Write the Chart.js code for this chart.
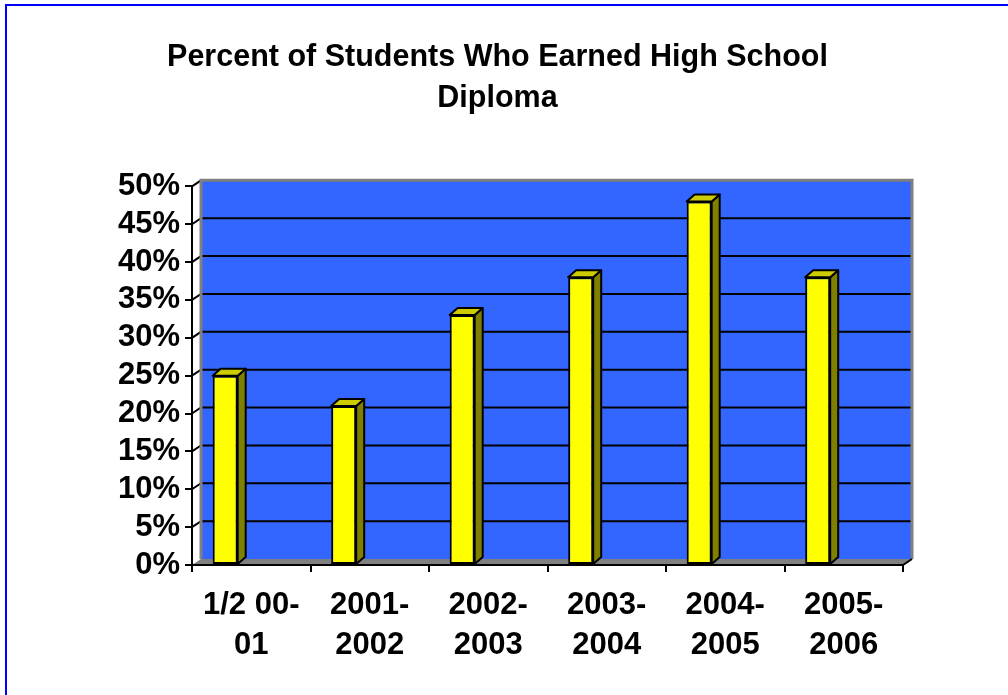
<!DOCTYPE html>
<html>
<head>
<meta charset="utf-8">
<script src="https://cdn.jsdelivr.net/npm/chart.js@4"></script>
<style>
    html, body { margin: 0; padding: 0; background: #fff; }
    #wrap { width: 1008px; height: 695px; position: relative; }
</style>
</head>
<body>
<div id="wrap"><canvas id="diplomaChart" width="1008" height="695"></canvas></div>
<script>
const schoolYears = [['1/2 00-', '01'], ['2001-', '2002'], ['2002-', '2003'], ['2003-', '2004'], ['2004-', '2005'], ['2005-', '2006']];
const percentEarned = [25, 21, 33, 38, 48, 38];
const emptySlot = [null, null, null, null, null, null];
const yTicks = [0, 5, 10, 15, 20, 25, 30, 35, 40, 45, 50];
const titleLines = ['Percent of Students Who Earned High School', 'Diploma'];

const fontFam = '"Liberation Sans", Arial, sans-serif';
const wallDx = 9, wallDy = -6;
const barDx = 8, barDy = -7;

// back wall, floor and frame, painted before the axes
const wallPlugin = {
    id: 'wall',
    beforeDraw(chart) {
        const ctx = chart.ctx;
        const { left, right, top, bottom } = chart.chartArea;
        const yScale = chart.scales.y;
        ctx.save();
        ctx.fillStyle = '#fff';
        ctx.fillRect(0, 0, chart.width, chart.height);

        // blue frame at top and left
        ctx.strokeStyle = '#0000ff';
        ctx.lineWidth = 2;
        ctx.beginPath();
        ctx.moveTo(6, chart.height);
        ctx.lineTo(6, 5);
        ctx.lineTo(chart.width, 5);
        ctx.stroke();

        // floor
        ctx.fillStyle = '#808080';
        ctx.beginPath();
        ctx.moveTo(left, bottom);
        ctx.lineTo(right, bottom);
        ctx.lineTo(right + wallDx, bottom + wallDy);
        ctx.lineTo(left + wallDx, bottom + wallDy);
        ctx.closePath();
        ctx.fill();

        // wall
        ctx.fillStyle = '#3366ff';
        ctx.fillRect(left + wallDx, top + wallDy, right - left, bottom - top);

        // gridlines
        ctx.strokeStyle = '#000';
        ctx.lineWidth = 2;
        yTicks.forEach(v => {
            if (v === 0 || v === 50) return;
            const y = yScale.getPixelForValue(v);
            ctx.beginPath();
            ctx.moveTo(left, y);
            ctx.lineTo(left + wallDx, y + wallDy);
            ctx.lineTo(right + wallDx, y + wallDy);
            ctx.stroke();
        });
        const yTop = yScale.getPixelForValue(50);
        ctx.beginPath();
        ctx.moveTo(left, yTop);
        ctx.lineTo(left + wallDx, yTop + wallDy);
        ctx.stroke();

        // wall edges
        ctx.strokeStyle = '#808080';
        ctx.lineWidth = 3;
        ctx.beginPath();
        ctx.moveTo(left + wallDx, bottom + wallDy);
        ctx.lineTo(left + wallDx, top + wallDy);
        ctx.lineTo(right + wallDx, top + wallDy);
        ctx.lineTo(right + wallDx, bottom + wallDy);
        ctx.stroke();

        // floor edge to the right tick
        ctx.strokeStyle = '#000';
        ctx.lineWidth = 2;
        ctx.beginPath();
        ctx.moveTo(right, bottom);
        ctx.lineTo(right + wallDx, bottom + wallDy);
        ctx.stroke();
        ctx.restore();
    }
};

// side and top faces of the bars
const depthPlugin = {
    id: 'depth',
    afterDatasetsDraw(chart) {
        const ctx = chart.ctx;
        const meta = chart.getDatasetMeta(0);
        ctx.save();
        ctx.strokeStyle = '#000';
        ctx.lineWidth = 2;
        ctx.lineJoin = 'round';
        meta.data.forEach(bar => {
            const p = bar.getProps(['x', 'y', 'base', 'width'], true);
            const l = p.x - p.width / 2;
            const r = p.x + p.width / 2;
            ctx.fillStyle = '#808000';
            ctx.beginPath();
            ctx.moveTo(r, p.y);
            ctx.lineTo(r + barDx, p.y + barDy);
            ctx.lineTo(r + barDx, p.base + barDy);
            ctx.lineTo(r, p.base);
            ctx.closePath();
            ctx.fill();
            ctx.stroke();
            ctx.fillStyle = '#cccc00';
            ctx.beginPath();
            ctx.moveTo(l, p.y);
            ctx.lineTo(l + barDx, p.y + barDy);
            ctx.lineTo(r + barDx, p.y + barDy);
            ctx.lineTo(r, p.y);
            ctx.closePath();
            ctx.fill();
            ctx.stroke();
        });
        ctx.restore();
    }
};

const ctxDiploma = document.getElementById('diplomaChart').getContext('2d');
const chartDiploma = new Chart(ctxDiploma, {
    type: 'bar',
    data: {
        labels: schoolYears,
        datasets: [
            {
                label: 'Percent',
                data: percentEarned,
                backgroundColor: '#ffff00',
                borderColor: '#000',
                borderWidth: 2,
                borderSkipped: false,
                categoryPercentage: 0.88,
                barPercentage: 0.48
            },
            {
                label: 'spacer',
                data: emptySlot,
                categoryPercentage: 0.88,
                barPercentage: 0.48
            }
        ]
    },
    options: {
        responsive: false,
        animation: false,
        layout: { padding: { left: 0, right: 13, top: 0, bottom: 0 } },
        plugins: {
            legend: { display: false },
            tooltip: { enabled: false },
            title: {
                display: true,
                text: titleLines,
                color: '#000',
                font: { family: fontFam, size: 30.5, weight: 'bold', lineHeight: 1.35 },
                padding: { top: 37, bottom: 67 }
            }
        },
        scales: {
            x: {
                afterFit: (scale) => { scale.height = 130; },
                grid: { offset: true, drawOnChartArea: false, drawTicks: true, tickLength: 7, color: '#000', lineWidth: 2 },
                border: { display: true, color: '#000', width: 2 },
                ticks: {
                    color: '#000',
                    padding: 13,
                    maxRotation: 0,
                    autoSkip: false,
                    font: { family: fontFam, size: 31, weight: 'bold', lineHeight: 1.29 }
                }
            },
            y: {
                min: 0,
                max: 50,
                afterFit: (scale) => { scale.width = 192; },
                afterBuildTicks: (scale) => { scale.ticks = yTicks.map(v => ({ value: v })); },
                grid: { drawOnChartArea: false, drawTicks: true, tickLength: 7, color: '#000', lineWidth: 2 },
                border: { display: true, color: '#000', width: 2 },
                ticks: {
                    color: '#000',
                    padding: 5,
                    autoSkip: false,
                    font: { family: fontFam, size: 31, weight: 'bold' },
                    callback: (v) => v + '%'
                }
            },
            // empty right-hand margin, so the title centres like the reference
            yRight: {
                position: 'right',
                display: true,
                afterFit: (scale) => { scale.width = 92; },
                grid: { display: false },
                border: { display: false },
                ticks: { display: false }
            }
        }
    },
    plugins: [wallPlugin, depthPlugin]
});
</script>
</body>
</html>
